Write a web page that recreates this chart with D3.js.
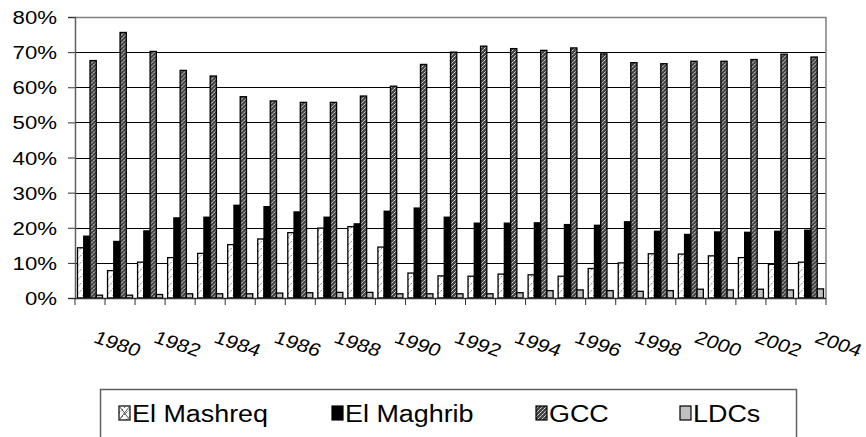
<!DOCTYPE html>
<html>
<head>
<meta charset="utf-8">
<script src="https://cdn.jsdelivr.net/npm/d3@7"></script>
<style>
  body { margin: 0; background: #fff; }
  text { font-family: "Liberation Sans", Arial, sans-serif; fill: #000; }
</style>
</head>
<body>
<div id="chart"></div>
<script>
// data (shares, 0..1)
var years = d3.range(1980, 2005).map(String);
var series = ["El Mashreq", "El Maghrib", "GCC", "LDCs"];

var mashreq = [0.143, 0.078, 0.102, 0.115, 0.127, 0.152, 0.168, 0.186, 0.199, 0.203,
               0.145, 0.071, 0.063, 0.062, 0.068, 0.066, 0.062, 0.084, 0.100, 0.126,
               0.125, 0.120, 0.115, 0.096, 0.102];
var maghrib = [0.176, 0.161, 0.191, 0.228, 0.230, 0.264, 0.260, 0.245, 0.230, 0.211,
               0.247, 0.256, 0.230, 0.213, 0.213, 0.214, 0.209, 0.207, 0.217, 0.190,
               0.181, 0.188, 0.187, 0.190, 0.193];
var gcc = [0.676, 0.756, 0.702, 0.648, 0.632, 0.573, 0.561, 0.557, 0.557, 0.575,
           0.603, 0.665, 0.700, 0.717, 0.710, 0.705, 0.712, 0.695, 0.670, 0.667,
           0.674, 0.674, 0.679, 0.694, 0.686];
var ldcs = [0.008, 0.008, 0.010, 0.012, 0.012, 0.012, 0.014, 0.015, 0.016, 0.016,
            0.012, 0.012, 0.012, 0.012, 0.015, 0.021, 0.023, 0.021, 0.019, 0.021,
            0.025, 0.023, 0.025, 0.023, 0.026];
var values = [mashreq, maghrib, gcc, ldcs];
var yTicks = [0, 0.1, 0.2, 0.3, 0.4, 0.5, 0.6, 0.7, 0.8];

var width = 866, height = 437;
var plotL = 75, plotR = 826, plotT = 17, plotB = 298;
var stretch = 1.2;

var svg = d3.select("#chart").append("svg")
    .attr("width", width)
    .attr("height", height);

// fill patterns like the old office chart
var defs = svg.append("defs");

var p1 = defs.append("pattern").attr("id", "pMashreq")
    .attr("patternUnits", "userSpaceOnUse").attr("width", 7).attr("height", 7);
p1.append("rect").attr("width", 7).attr("height", 7).attr("fill", "#fff");
p1.append("path").attr("d", "M0,7 L7,0").attr("stroke", "#555").attr("stroke-width", 0.9)
    .attr("stroke-dasharray", "2,1.5");

var p3 = defs.append("pattern").attr("id", "pGcc")
    .attr("patternUnits", "userSpaceOnUse").attr("width", 4).attr("height", 4);
p3.append("rect").attr("width", 4).attr("height", 4).attr("fill", "#444");
p3.append("rect").attr("x", 0).attr("y", 0).attr("width", 1).attr("height", 1).attr("fill", "#ddd");
p3.append("rect").attr("x", 2).attr("y", 2).attr("width", 1).attr("height", 1).attr("fill", "#ddd");
p3.append("rect").attr("x", 1).attr("y", 3).attr("width", 1).attr("height", 1).attr("fill", "#aaa");
p3.append("rect").attr("x", 3).attr("y", 1).attr("width", 1).attr("height", 1).attr("fill", "#aaa");

var fills = ["url(#pMashreq)", "#000", "url(#pGcc)", "#c0c0c0"];

// scales
var x0 = d3.scaleBand().domain(years).range([plotL, plotR])
    .paddingInner(0.167).paddingOuter(0.083);
var x1 = d3.scaleBand().domain(series).range([0, x0.bandwidth()]);
var y = d3.scaleLinear().domain([0, 0.8]).range([plotB, plotT]);

// gridlines
svg.append("g").selectAll("line")
    .data(yTicks.slice(1, -1))
    .enter().append("line")
    .attr("x1", plotL).attr("x2", plotR)
    .attr("y1", d => Math.round(y(d)) + 0.5).attr("y2", d => Math.round(y(d)) + 0.5)
    .attr("stroke", "#000").attr("stroke-width", 1);

// plot border top / right
svg.append("path")
    .attr("d", `M${plotL},${Math.round(plotT) + 0.5} H${plotR} V${plotB}`)
    .attr("fill", "none").attr("stroke", "#808080").attr("stroke-width", 1.5);

// bars
var groups = svg.append("g").selectAll("g")
    .data(years)
    .enter().append("g")
    .attr("transform", d => `translate(${x0(d)},0)`);

groups.selectAll("rect")
    .data((d, i) => series.map((s, j) => ({ s: s, j: j, v: values[j][i] })))
    .enter().append("rect")
    .attr("x", d => x1(d.s))
    .attr("width", x1.bandwidth())
    .attr("y", d => y(d.v))
    .attr("height", d => plotB - y(d.v))
    .attr("fill", d => fills[d.j])
    .attr("stroke", "#000")
    .attr("stroke-width", 1.3);

// y axis
var yAxis = d3.axisLeft(y).tickValues(yTicks).tickSize(7).tickFormat("");
svg.append("g")
    .attr("transform", `translate(${plotL},0)`)
    .call(yAxis)
    .call(g => g.select(".domain").attr("stroke", "#606060").attr("stroke-width", 1.5))
    .call(g => g.selectAll(".tick line").attr("stroke", "#303030"));

svg.append("g").selectAll("g")
    .data(yTicks)
    .enter().append("g")
    .attr("transform", d => `translate(57,${y(d) + 7}) scale(${stretch},1)`)
    .append("text")
    .attr("text-anchor", "end")
    .style("font-size", "18.5px")
    .text(d => Math.round(d * 100) + "%");

// x axis: ticks on category edges
var edges = x0.domain().map(d => x0(d) - x0.step() * x0.paddingInner() / 2).concat([plotR]);
svg.append("line")
    .attr("x1", plotL).attr("x2", plotR)
    .attr("y1", plotB + 0.5).attr("y2", plotB + 0.5)
    .attr("stroke", "#303030").attr("stroke-width", 1.5);
svg.append("g").selectAll("line")
    .data(edges)
    .enter().append("line")
    .attr("x1", d => d).attr("x2", d => d)
    .attr("y1", plotB).attr("y2", plotB + 7)
    .attr("stroke", "#303030").attr("stroke-width", 1);

// rotated year labels, every other year
svg.append("g").selectAll("g")
    .data(years.filter((d, i) => i % 2 === 0))
    .enter().append("g")
    .attr("transform", d => `translate(${x0(d) + x0.bandwidth() / 2 + 2.5},342) scale(${stretch},1) rotate(22)`)
    .append("text")
    .style("font-size", "18px")
    .text(d => d);

// legend
var legend = svg.append("g");
legend.append("rect")
    .attr("x", 100.5).attr("y", 389.5)
    .attr("width", 696).attr("height", 60)
    .attr("fill", "#fff").attr("stroke", "#606060").attr("stroke-width", 1.5);

var legendX = [119, 332, 536, 680];
var item = legend.selectAll(".legend")
    .data(series)
    .enter().append("g")
    .attr("class", "legend")
    .attr("transform", (d, i) => `translate(${legendX[i]},0)`);

item.append("rect")
    .attr("x", 0).attr("y", 406)
    .attr("width", 11).attr("height", 14)
    .attr("fill", (d, i) => fills[i])
    .attr("stroke", "#000").attr("stroke-width", 1.2);

item.filter((d, i) => i === 0).append("path")
    .attr("d", "M0,406 L11,420 M11,406 L0,420")
    .attr("stroke", "#444").attr("stroke-width", 0.9);

item.append("g")
    .attr("transform", `translate(13,421.5) scale(1.17,1)`)
    .append("text")
    .style("font-size", "23px")
    .text(d => d);
</script>
</body>
</html>
